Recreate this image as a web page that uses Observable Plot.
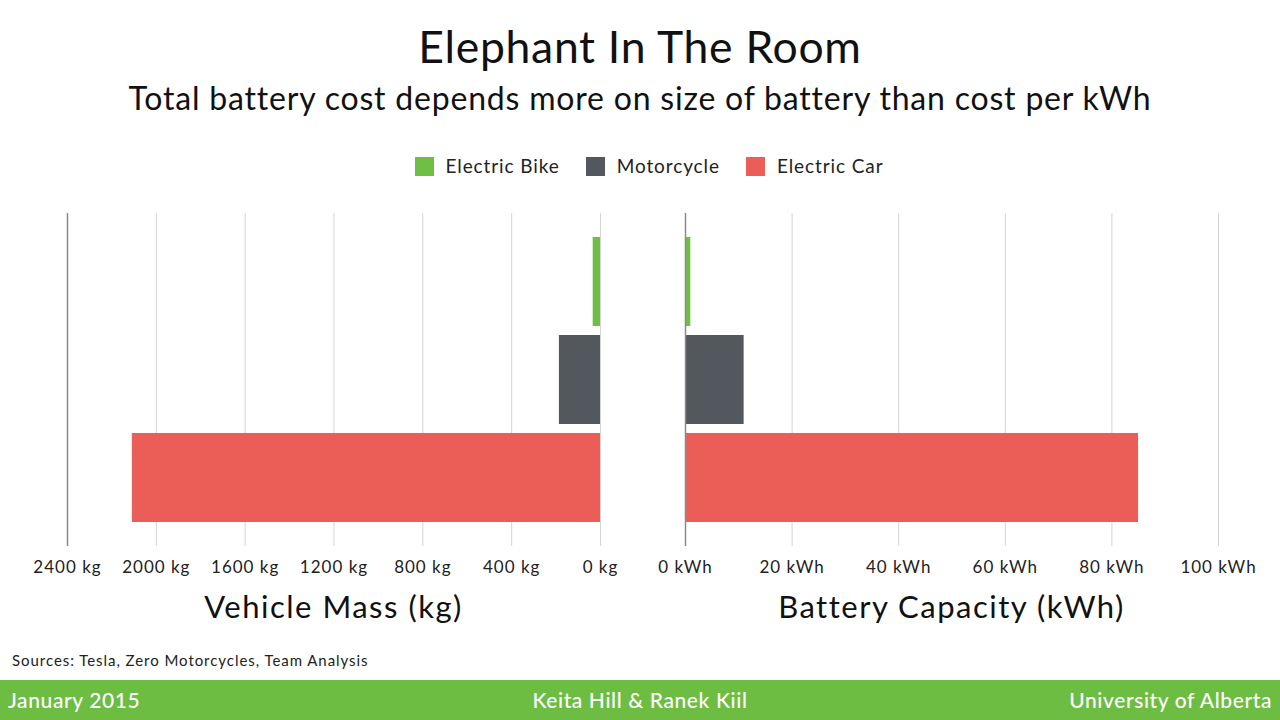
<!DOCTYPE html>
<html>
<head>
<meta charset="utf-8">
<script src="https://cdn.jsdelivr.net/npm/d3@7"></script>
<script src="https://cdn.jsdelivr.net/npm/@observablehq/plot@0.6"></script>
<style>
  html, body { margin: 0; padding: 0; background: #fff; }
  #page { position: relative; width: 1280px; height: 720px; overflow: hidden; font-family: Lato, "Open Sans", sans-serif; color: #111; }
  .abs { position: absolute; white-space: nowrap; }
  #title { left: 0; width: 1280px; top: 20px; text-align: center; font-size: 44.5px; line-height: 52px; letter-spacing: 0.7px; }
  #subtitle { left: 0; width: 1280px; top: 78px; text-align: center; font-size: 32px; line-height: 40px; letter-spacing: 0.8px; }
  #legend { left: 9px; width: 1280px; top: 154px; display: flex; justify-content: center; font-size: 19px; line-height: 24px; color: #222; letter-spacing: 0.9px; }
  #legend .item { display: flex; align-items: center; margin: 0 13px; }
  #legend .sw { width: 19px; height: 19px; margin-right: 12px; }
  .axtitle { top: 586px; font-size: 31px; line-height: 40px; text-align: center; letter-spacing: 1.5px; }
  #sources { left: 12px; top: 650px; font-size: 15px; line-height: 20px; color: #222; letter-spacing: 0.95px; }
  #footer { left: 0; top: 680px; width: 1280px; height: 40px; background: #6dbd43; }
  .ft { top: 8px; font-size: 21px; line-height: 24px; color: #fff; font-weight: 500; letter-spacing: 0.6px; }
  svg { position: absolute; }
</style>
</head>
<body>
<div id="page">
  <div id="title" class="abs"></div>
  <div id="subtitle" class="abs"></div>
  <div id="legend" class="abs"></div>
  <div id="leftChart"></div>
  <div id="rightChart"></div>
  <div id="axLeft" class="abs axtitle"></div>
  <div id="axRight" class="abs axtitle"></div>
  <div id="sources" class="abs"></div>
  <div id="footer" class="abs">
    <div id="fLeft" class="abs ft" style="left:8px"></div>
    <div id="fMid" class="abs ft" style="left:0;width:1280px;text-align:center"></div>
    <div id="fRight" class="abs ft" style="right:8px"></div>
  </div>
</div>
<script>
const titleText = "Elephant In The Room";
const subtitleText = "Total battery cost depends more on size of battery than cost per kWh";
const categories = ["Electric Bike", "Motorcycle", "Electric Car"];
const massKg = [33, 185, 2108];
const capacityKWh = [1, 11, 85];
const seriesColors = ["#70be44", "#53575e", "#ea5e57"];
const massTicks = [0, 400, 800, 1200, 1600, 2000, 2400];
const capacityTicks = [0, 20, 40, 60, 80, 100];
const massLabel = "Vehicle Mass (kg)";
const capacityLabel = "Battery Capacity (kWh)";
const sourcesText = "Sources: Tesla, Zero Motorcycles, Team Analysis";
const footerLeft = "January 2015";
const footerMid = "Keita Hill & Ranek Kiil";
const footerRight = "University of Alberta";

document.getElementById("title").textContent = titleText;
document.getElementById("subtitle").textContent = subtitleText;
document.getElementById("sources").textContent = sourcesText;
document.getElementById("fLeft").textContent = footerLeft;
document.getElementById("fMid").textContent = footerMid;
document.getElementById("fRight").textContent = footerRight;

const legend = document.getElementById("legend");
categories.forEach((c, i) => {
  const it = document.createElement("div"); it.className = "item";
  const sw = document.createElement("div"); sw.className = "sw"; sw.style.background = seriesColors[i];
  const tx = document.createElement("span"); tx.textContent = c;
  it.appendChild(sw); it.appendChild(tx); legend.appendChild(it);
});

const rows = categories.map((c, i) => ({name: c, mass: massKg[i], capacity: capacityKWh[i]}));

const common = {
  height: 386,
  marginTop: 13,
  marginBottom: 40,
  style: {fontFamily: "Lato, 'Open Sans', sans-serif", fontSize: "17px", letterSpacing: "1px", color: "#222", background: "transparent", overflow: "visible"},
  y: {domain: categories, axis: null, paddingInner: 0.094, paddingOuter: 0.233},
  color: {domain: categories, range: seriesColors}
};

const left = Plot.plot({
  ...common,
  width: 640,
  marginLeft: 67,
  marginRight: 40,
  x: {domain: [2400, 0], ticks: massTicks, tickFormat: d => d + " kg", tickSize: 0, tickPadding: 14, label: null},
  marks: [
    Plot.ruleX(massTicks.filter(t => t !== 2400), {stroke: "#d4d4d4", strokeWidth: 1}),
    Plot.ruleX([2400], {stroke: "#8a8a8a", strokeWidth: 1.5}),
    Plot.barX(rows, {x: "mass", y: "name", fill: "name"})
  ]
});
left.style.left = "0px"; left.style.top = "200px";
document.getElementById("leftChart").appendChild(left);

const right = Plot.plot({
  ...common,
  width: 640,
  marginLeft: 45,
  marginRight: 62,
  x: {domain: [0, 100], ticks: capacityTicks, tickFormat: d => d + " kWh", tickSize: 0, tickPadding: 14, label: null},
  marks: [
    Plot.ruleX(capacityTicks.filter(t => t !== 0), {stroke: "#d4d4d4", strokeWidth: 1}),
    Plot.barX(rows, {x: "capacity", y: "name", fill: "name"}),
    Plot.ruleX([0], {stroke: "#8a8a8a", strokeWidth: 1.5})
  ]
});
right.style.left = "640px"; right.style.top = "200px";
document.getElementById("rightChart").appendChild(right);

const axL = document.getElementById("axLeft");
axL.textContent = massLabel; axL.style.left = "67px"; axL.style.width = "533px";
const axR = document.getElementById("axRight");
axR.textContent = capacityLabel; axR.style.left = "685px"; axR.style.width = "533px";
</script>
</body>
</html>
